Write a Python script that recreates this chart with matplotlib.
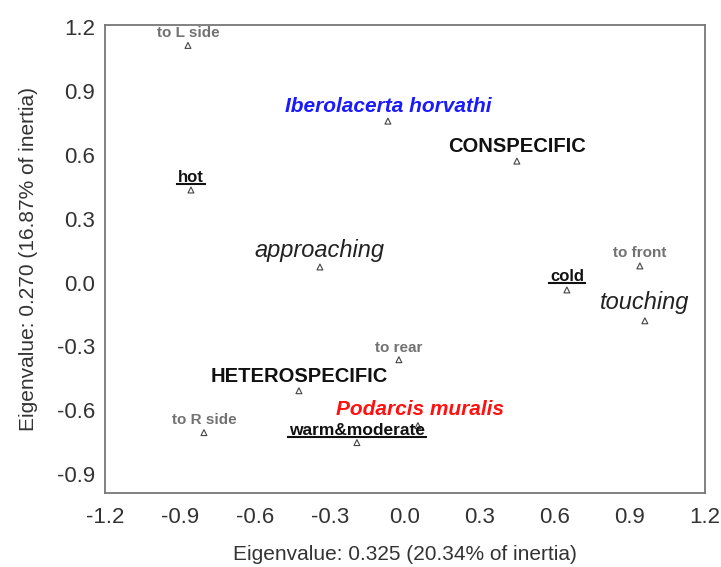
import matplotlib
matplotlib.use('Agg')
from matplotlib import pyplot as plt
from matplotlib.lines import Line2D

plt.rcParams['font.family'] = ['Liberation Sans', 'DejaVu Sans']

# category scores
labels = ['to L side', 'Iberolacerta horvathi', 'CONSPECIFIC', 'hot', 'approaching',
          'to front', 'cold', 'touching', 'to rear', 'HETEROSPECIFIC',
          'Podarcis muralis', 'to R side', 'warm&moderate']
dim1 = [-0.868, -0.068, 0.448, -0.856, -0.34, 0.94, 0.648, 0.96, -0.024, -0.424,
        0.052, -0.804, -0.192]
dim2 = [1.115, 0.759, 0.571, 0.435, 0.073, 0.078, -0.035, -0.18, -0.363, -0.509,
        -0.673, -0.706, -0.753]
ticks = [-1.2, -0.9, -0.6, -0.3, 0.0, 0.3, 0.6, 0.9, 1.2]

# label styles: (color, size, weight, style, underline, dx, dy in points)
GREY = '#727272'
styles = {
    'to L side': (GREY, 11, 'bold', 'normal', False, 0, 8.6),
    'Iberolacerta horvathi': ('#1a1aff', 15, 'bold', 'italic', False, 0, 10.8),
    'CONSPECIFIC': ('#111111', 14.5, 'bold', 'normal', False, 0, 10.8),
    'hot': ('#111111', 12, 'bold', 'normal', True, 0, 9),
    'approaching': ('#222222', 17, 'normal', 'italic', False, 0, 12),
    'to front': (GREY, 11, 'bold', 'normal', False, 0, 9.4),
    'cold': ('#111111', 12, 'bold', 'normal', True, 0, 10),
    'touching': ('#222222', 17, 'normal', 'italic', False, 0, 13),
    'to rear': (GREY, 11, 'bold', 'normal', False, 0, 8.6),
    'HETEROSPECIFIC': ('#111111', 14.5, 'bold', 'normal', False, 0, 10),
    'Podarcis muralis': ('#ff1111', 15, 'bold', 'italic', False, 1.5, 11.5),
    'to R side': (GREY, 11, 'bold', 'normal', False, 0, 9.4),
    'warm&moderate': ('#111111', 12.5, 'bold', 'normal', True, 0, 9),
}

fig = plt.figure(figsize=(7.21, 5.67), dpi=100)
ax = fig.add_axes([0.1456, 0.1305, 0.832, 0.825])

ax.scatter(dim1, dim2, marker='^', s=18, facecolors='none', edgecolors='#444444',
           linewidths=0.8, zorder=3)

texts = []
for name, x, y in zip(labels, dim1, dim2):
    color, size, weight, style, under, dx, dy = styles[name]
    t = ax.annotate(name, (x, y), xytext=(dx, dy), textcoords='offset points',
                    ha='center', va='center', color=color, fontsize=size,
                    fontweight=weight, fontstyle=style)
    texts.append((t, under, color))

ax.set_xlim(-1.2, 1.2)
ax.set_ylim(-0.99, 1.21)
ax.set_xticks(ticks)
ax.set_yticks(ticks[1:])
ax.set_xticklabels([f'{v:.1f}' for v in ticks])
ax.set_yticklabels([f'{v:.1f}' for v in ticks[1:]])
ax.tick_params(length=0, labelsize=16, labelcolor='#333333')
ax.tick_params(axis='x', pad=10)
ax.tick_params(axis='y', pad=7)
for sp in ax.spines.values():
    sp.set_color('#777777')
    sp.set_linewidth(1.3)

ax.set_xlabel('Eigenvalue: 0.325 (20.34% of inertia)', fontsize=15,
              color='#333333', labelpad=12)
ax.set_ylabel('Eigenvalue: 0.270 (16.87% of inertia)', fontsize=15,
              color='#333333', labelpad=14)

# underline the habitat labels
fig.canvas.draw()
inv = fig.transFigure.inverted()
for t, under, color in texts:
    if not under:
        continue
    bb = t.get_window_extent()
    (x0, y0), (x1, _) = inv.transform([(bb.x0 - 1, bb.y0 + 1), (bb.x1 + 1, bb.y0 + 1)])
    fig.add_artist(Line2D([x0, x1], [y0, y0], color=color, lw=1.5,
                          transform=fig.transFigure))

fig.savefig('out.png', dpi=100)
